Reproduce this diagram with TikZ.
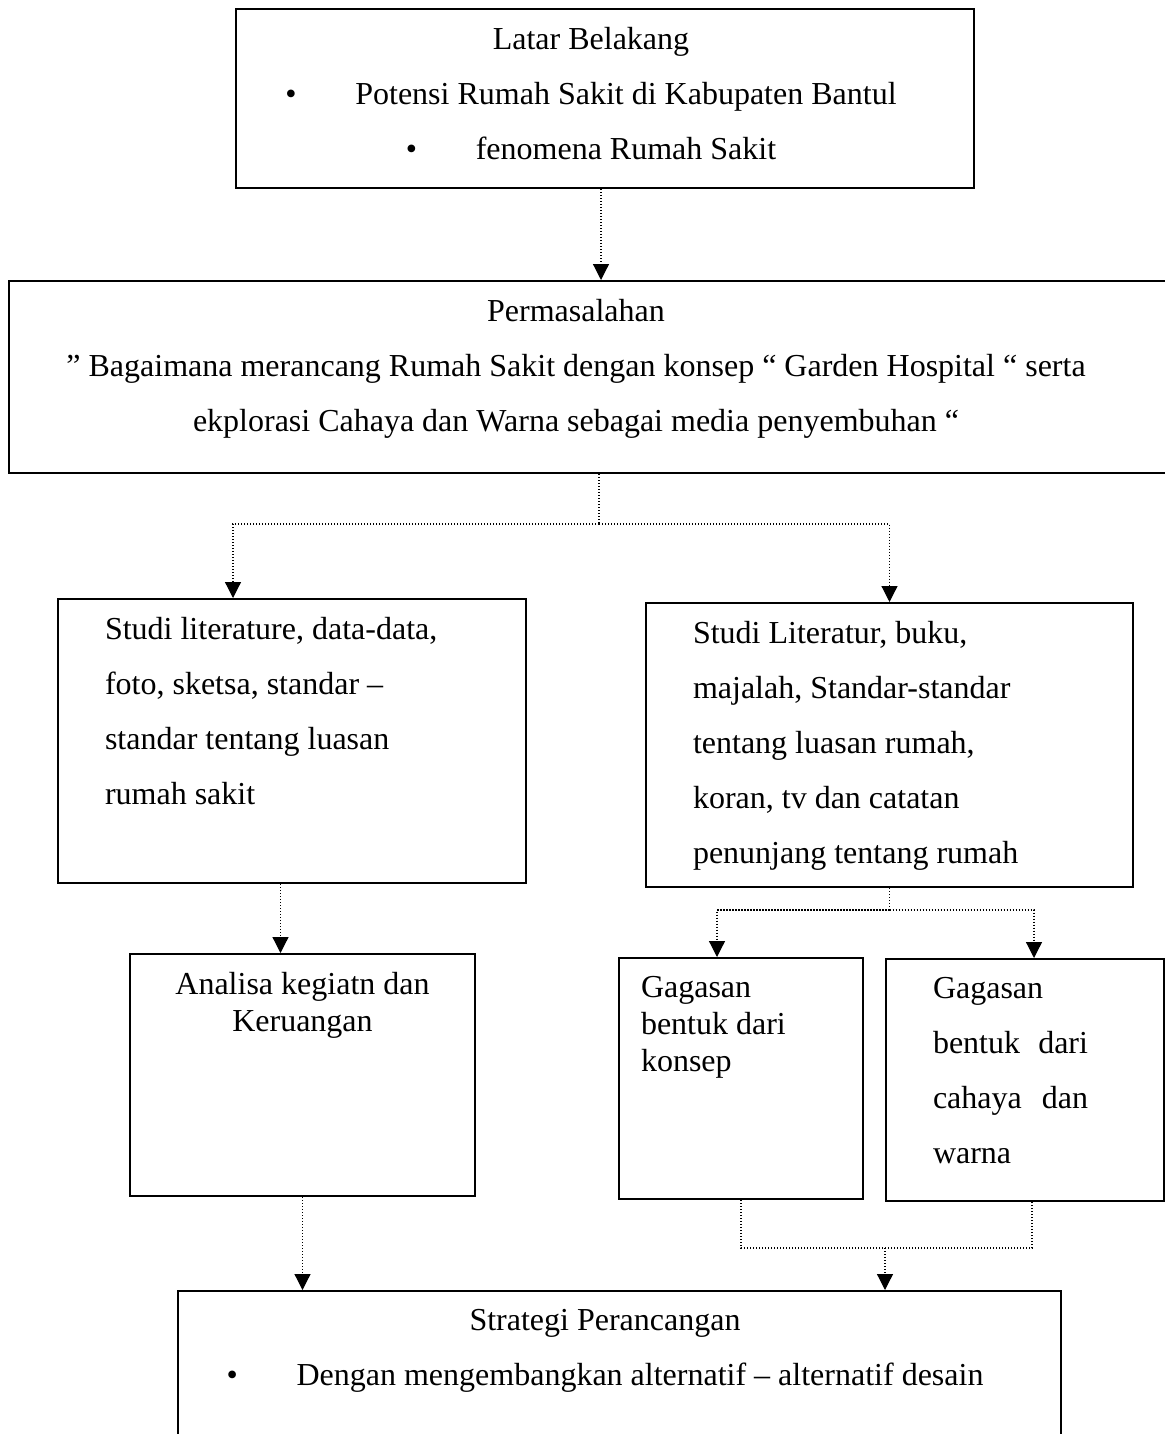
\documentclass[tikz,border=0pt]{standalone}
\usepackage{fontspec}
\setmainfont{Liberation Serif}
\usetikzlibrary{arrows.meta}

% text block of a box: width, height, lines
\newcommand{\boxbody}[3]{\parbox[t][#2][t]{#1}{#3}}
% centred lines, pulled left by half of #1
\newcommand{\offcentre}[1]{\centering\rightskip=#1 plus 1fil\relax}

\begin{document}
\begin{tikzpicture}[
    box/.style={
        draw,
        line width=1pt,
        anchor=north west,
        inner xsep=10pt,
        inner ysep=9pt,
        font=\fontsize{16}{27.5}\selectfont
    },
    tight/.style={font=\fontsize{16}{18.5}\selectfont},
    dotline/.style={line width=0.6pt, dash pattern=on 0.6pt off 0.9pt},
    link/.style={dotline, -{Triangle[width=8pt,length=8pt]}}
]
\useasboundingbox (0,0) rectangle (582pt,-717pt);

\node[box] (latar) at (117.5pt,-4pt) {\boxbody{349pt}{71.5pt}{\offcentre{14pt}
    Latar Belakang\\
    \makebox[35pt][l]{•}Potensi Rumah Sakit di Kabupaten Bantul\\
    \makebox[35pt][l]{•}fenomena Rumah Sakit}};

\node[box] (perm) at (4pt,-140pt) {\boxbody{564pt}{78pt}{\offcentre{17pt}
    Permasalahan\\
    ” Bagaimana merancang Rumah Sakit dengan konsep “ Garden Hospital “ serta\\
    ekplorasi Cahaya dan Warna sebagai media penyembuhan “}};

\node[box, inner xsep=23.5pt] (studiA) at (28.5pt,-299pt) {\boxbody{187pt}{124pt}{\raggedright
    Studi literature, data-data,\\
    foto, sketsa, standar –\\
    standar tentang luasan\\
    rumah sakit}};

\node[box, inner xsep=23.5pt] (studiB) at (322.5pt,-301pt) {\boxbody{196.5pt}{124pt}{\raggedright
    Studi Literatur, buku,\\
    majalah, Standar-standar\\
    tentang luasan rumah,\\
    koran, tv dan catatan\\
    penunjang tentang rumah}};

\node[box, tight] (analisa) at (64.5pt,-476.5pt) {\boxbody{152.5pt}{103pt}{\centering
    Analisa kegiatn dan\\
    Keruangan}};

\node[box, tight, inner xsep=11pt] (gagA) at (309pt,-478.5pt) {\boxbody{100pt}{102.5pt}{\raggedright
    Gagasan\\
    bentuk dari\\
    konsep}};

\node[box, inner xsep=23.5pt] (gagB) at (442.5pt,-479pt) {\boxbody{92pt}{103pt}{\raggedright
    Gagasan\\
    \makebox[77.5pt][s]{bentuk dari}\\
    \makebox[77.5pt][s]{cahaya dan}\\
    warna}};

\node[box] (strat) at (88.5pt,-645pt) {\boxbody{421.5pt}{62pt}{\offcentre{14.5pt}
    Strategi Perancangan\\
    \makebox[35pt][l]{•}Dengan mengembangkan alternatif – alternatif desain}};

% latar -> permasalahan
\draw[link] ([xshift=-2pt]latar.south) -- ([xshift=-2pt]latar.south |- perm.north);

% permasalahan -> studi
\coordinate (split1) at ([yshift=-25pt,xshift=3pt]perm.south);
\draw[dotline] (split1 |- perm.south) -- (split1);
\draw[link] (split1) -| ([xshift=-29.5pt]studiA.north);
\draw[link] (split1) -| (studiB.north);

% studi -> analisa
\draw[link] ([xshift=-11pt]analisa.north |- studiA.south) -- ([xshift=-11pt]analisa.north);

% studi -> gagasan
\coordinate (split2) at ([yshift=-11pt]studiB.south);
\draw[dotline] (studiB.south) -- (split2);
\draw[link] (split2) -| ([xshift=-12pt]gagA.north);
\draw[link] (split2) -| ([xshift=4.5pt]gagB.north);

% gagasan -> strategi
\draw[dotline] (gagA.south) -- ++(0,-24pt) coordinate (joinA) -| ([xshift=3.5pt]gagB.south);
\draw[link] ([xshift=132.75pt]strat.north |- joinA) -- ([xshift=132.75pt]strat.north);

% analisa -> strategi
\draw[link] (analisa.south) -- (analisa.south |- strat.north);

\end{tikzpicture}
\end{document}
